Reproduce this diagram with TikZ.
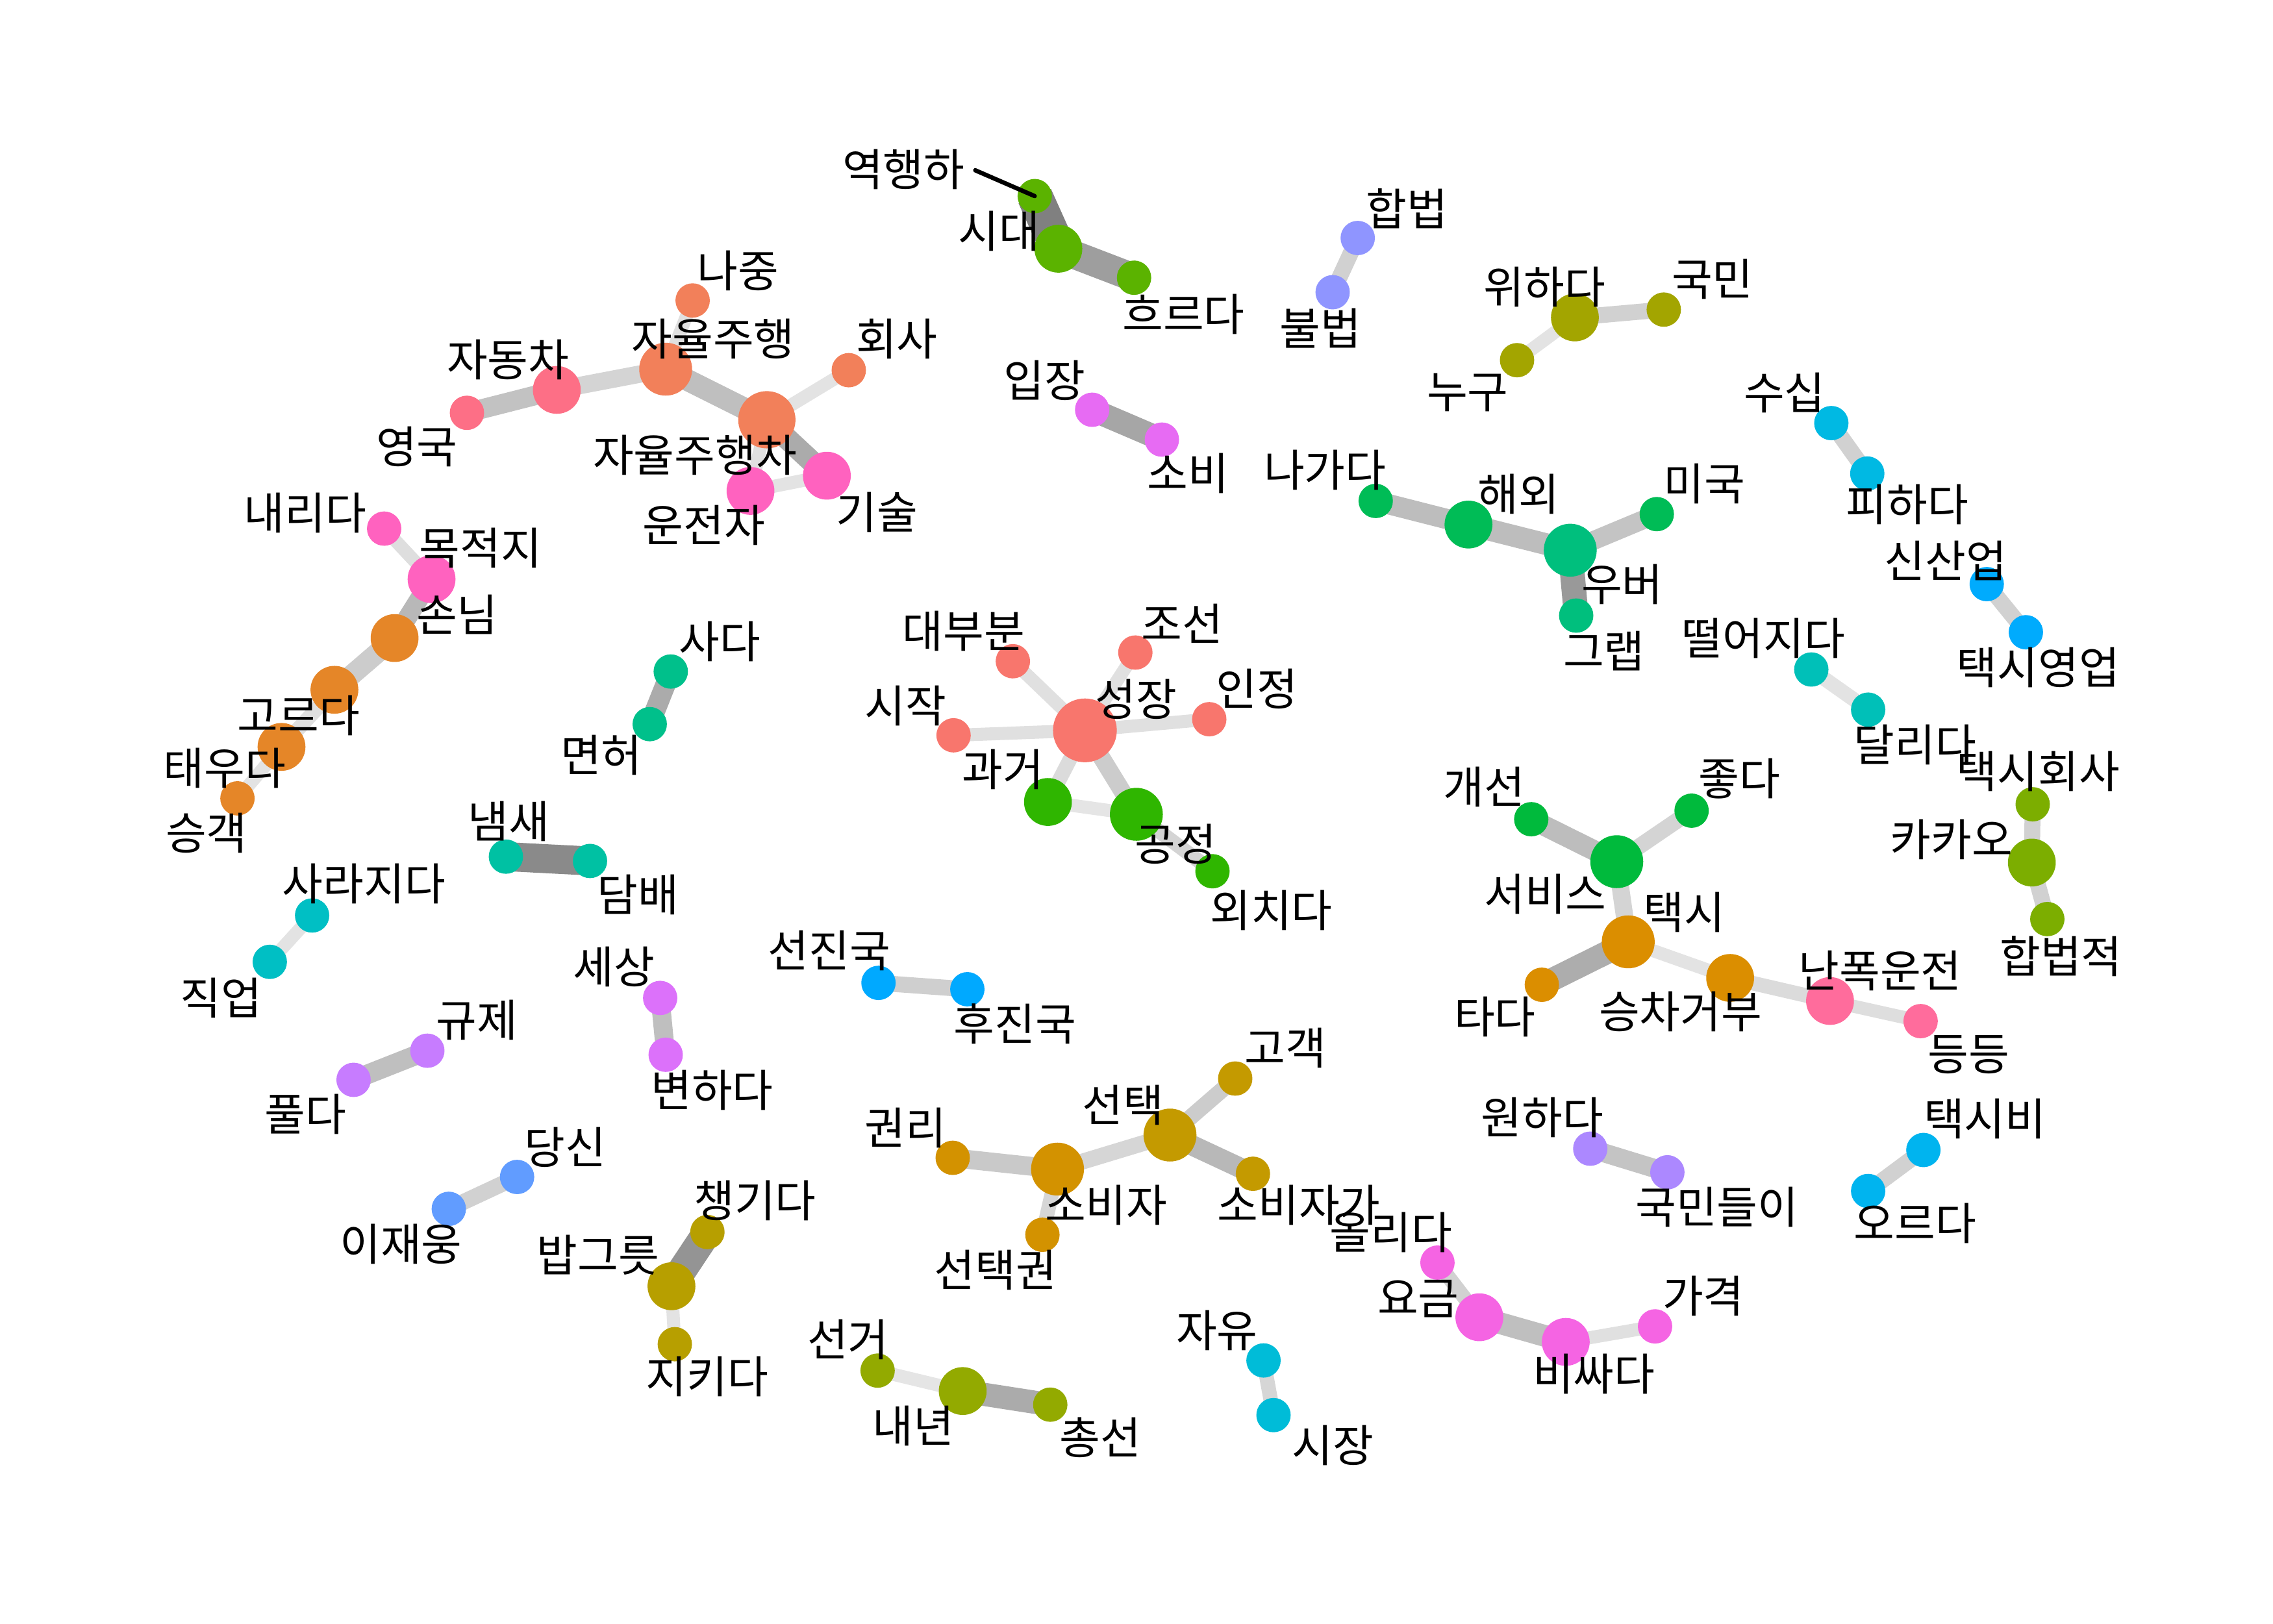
\documentclass[tikz,border=0pt]{standalone}
\usepackage{fontspec}
\newfontfamily\kr{Noto Sans CJK KR}
\pgfdeclarelayer{bg}
\pgfsetlayers{bg,main}
\definecolor{cA}{HTML}{F2805A}
\definecolor{cB}{HTML}{FD6F86}
\definecolor{cC}{HTML}{FF62BF}
\definecolor{cD}{HTML}{E58628}
\definecolor{cE}{HTML}{00C08B}
\definecolor{cF}{HTML}{00C1A3}
\definecolor{cG}{HTML}{00BFC4}
\definecolor{cH}{HTML}{C77CFF}
\definecolor{cI}{HTML}{619CFF}
\definecolor{cJ}{HTML}{DC71FA}
\definecolor{cK}{HTML}{B79F00}
\definecolor{cL}{HTML}{5BB300}
\definecolor{cM}{HTML}{8F95FF}
\definecolor{cN}{HTML}{A3A500}
\definecolor{cO}{HTML}{E76BF3}
\definecolor{cP}{HTML}{F8766D}
\definecolor{cQ}{HTML}{2FB600}
\definecolor{cR}{HTML}{00BC56}
\definecolor{cS}{HTML}{00BF7D}
\definecolor{cT}{HTML}{00BA3C}
\definecolor{cU}{HTML}{00A9FF}
\definecolor{cV}{HTML}{C49A00}
\definecolor{cW}{HTML}{D39200}
\definecolor{cX}{HTML}{93AA00}
\definecolor{cY}{HTML}{00BCD8}
\definecolor{cZ}{HTML}{F564E3}
\definecolor{ca}{HTML}{AC88FF}
\definecolor{cb}{HTML}{00B4EF}
\definecolor{cc}{HTML}{00B9E3}
\definecolor{cd}{HTML}{00ABFD}
\definecolor{ce}{HTML}{00C0B8}
\definecolor{cf}{HTML}{DB8E00}
\definecolor{cg}{HTML}{FF6C9C}
\definecolor{ch}{HTML}{7CAE00}
\tikzset{
  vsmall/.style={circle,inner sep=0pt,minimum size=2.37mm,draw=none},
  vbig/.style={circle,inner sep=0pt,minimum size=3.3mm,draw=none},
  vhuge/.style={circle,inner sep=0pt,minimum size=3.65mm,draw=none},
  vgiant/.style={circle,inner sep=0pt,minimum size=3.95mm,draw=none},
  vmega/.style={circle,inner sep=0pt,minimum size=4.4mm,draw=none},
  lbl/.style={font=\kr\fontsize{8.7pt}{9.5pt}\selectfont,inner sep=0pt,text=black},
  lnk/.style 2 args={draw=black!#1,line width=#2mm},
}
\begin{document}
\begin{tikzpicture}[x=1cm,y=-1cm]
\useasboundingbox (0,0) rectangle (15.68,11.2);
% ---------------- nodes ----------------
% cluster: 시대
\node[vsmall,fill=cL] (yeok) at (7.138,1.353) {};
\node[vbig,fill=cL] (sidae) at (7.301,1.716) {};
\node[vsmall,fill=cL] (heur) at (7.823,1.916) {};
% 합법
\node[vsmall,fill=cM] (hapb) at (9.366,1.642) {};
\node[vsmall,fill=cM] (bulb) at (9.193,2.016) {};
% 위하다
\node[vbig,fill=cN] (wiha) at (10.864,2.19) {};
\node[vsmall,fill=cN] (gukm) at (11.477,2.136) {};
\node[vsmall,fill=cN] (nugu) at (10.465,2.485) {};
% 자율주행
\node[vsmall,fill=cA] (najung) at (4.778,2.073) {};
\node[vhuge,fill=cA] (jayul) at (4.592,2.547) {};
\node[vbig,fill=cB] (jadong) at (3.841,2.69) {};
\node[vsmall,fill=cB] (yeongguk) at (3.221,2.848) {};
\node[vgiant,fill=cA] (jayulcha) at (5.29,2.896) {};
\node[vsmall,fill=cA] (hoesa) at (5.855,2.554) {};
\node[vbig,fill=cC] (gisul) at (5.704,3.282) {};
\node[vbig,fill=cC] (unjeon) at (5.177,3.387) {};
% 손님
\node[vsmall,fill=cC] (naerida) at (2.65,3.647) {};
\node[vbig,fill=cC] (mokjeok) at (2.977,3.996) {};
\node[vbig,fill=cD] (sonnim) at (2.722,4.402) {};
\node[vbig,fill=cD] (goreuda) at (2.307,4.759) {};
\node[vbig,fill=cD] (taeuda) at (1.942,5.153) {};
\node[vsmall,fill=cD] (seunggaek) at (1.638,5.508) {};
% 사다
\node[vsmall,fill=cE] (sada) at (4.627,4.633) {};
\node[vsmall,fill=cE] (myeonheo) at (4.482,4.996) {};
% 냄새
\node[vsmall,fill=cF] (naemsae) at (3.49,5.91) {};
\node[vsmall,fill=cF] (dambae) at (4.07,5.94) {};
% 사라지다
\node[vsmall,fill=cG] (sarajida) at (2.153,6.316) {};
\node[vsmall,fill=cG] (jigeop) at (1.861,6.636) {};
% 규제
\node[vsmall,fill=cH] (gyuje) at (2.948,7.249) {};
\node[vsmall,fill=cH] (pulda) at (2.439,7.45) {};
% 당신
\node[vsmall,fill=cI] (dangsin) at (3.567,8.12) {};
\node[vsmall,fill=cI] (ijaeung) at (3.096,8.34) {};
% 세상
\node[vsmall,fill=cJ] (sesang) at (4.554,6.885) {};
\node[vsmall,fill=cJ] (byeon) at (4.592,7.277) {};
% 밥그릇
\node[vsmall,fill=cK] (chaeng) at (4.88,8.50) {};
\node[vbig,fill=cK] (bap) at (4.632,8.874) {};
\node[vsmall,fill=cK] (jiki) at (4.655,9.274) {};
% 입장
\node[vsmall,fill=cO] (ipjang) at (7.534,2.827) {};
\node[vsmall,fill=cO] (sobi) at (8.015,3.033) {};
% 성장
\node[vsmall,fill=cP] (daebubun) at (6.987,4.562) {};
\node[vsmall,fill=cP] (joseon) at (7.832,4.502) {};
\node[vsmall,fill=cP] (sijak) at (6.578,5.073) {};
\node[vmega,fill=cP] (seongjang) at (7.484,5.039) {};
\node[vsmall,fill=cP] (injeong) at (8.342,4.962) {};
\node[vbig,fill=cQ] (gwageo) at (7.229,5.533) {};
\node[vhuge,fill=cQ] (gongjeong) at (7.839,5.618) {};
\node[vsmall,fill=cQ] (oechida) at (8.364,6.011) {};
% 선진국
\node[vsmall,fill=cU] (seonjin) at (6.06,6.781) {};
\node[vsmall,fill=cU] (hujin) at (6.673,6.825) {};
% 선택
\node[vsmall,fill=cV] (gogaek) at (8.521,7.441) {};
\node[vhuge,fill=cV] (seontaek) at (8.071,7.831) {};
\node[vsmall,fill=cW] (gwonri) at (6.572,7.988) {};
\node[vhuge,fill=cW] (sobija) at (7.295,8.066) {};
\node[vsmall,fill=cV] (sobijaga) at (8.643,8.098) {};
\node[vsmall,fill=cW] (seontaekgwon) at (7.191,8.519) {};
% 내년
\node[vsmall,fill=cX] (seongeo) at (6.054,9.456) {};
\node[vbig,fill=cX] (naenyeon) at (6.641,9.597) {};
\node[vsmall,fill=cX] (chongseon) at (7.245,9.691) {};
% 자유
\node[vsmall,fill=cY] (jayu) at (8.716,9.386) {};
\node[vsmall,fill=cY] (sijang) at (8.785,9.763) {};
% 요금
\node[vsmall,fill=cZ] (ollida) at (9.916,8.711) {};
\node[vbig,fill=cZ] (yogeum) at (10.205,9.088) {};
\node[vbig,fill=cZ] (bissada) at (10.801,9.258) {};
\node[vsmall,fill=cZ] (gagyeok) at (11.417,9.151) {};
% 원하다
\node[vsmall,fill=ca] (wonhada) at (10.97,7.925) {};
\node[vsmall,fill=ca] (gukmindeuri) at (11.502,8.088) {};
% 택시비
\node[vsmall,fill=cb] (taeksibi) at (13.268,7.934) {};
\node[vsmall,fill=cb] (oreuda) at (12.887,8.217) {};
% 우버
\node[vsmall,fill=cR] (nagada) at (9.49,3.456) {};
\node[vbig,fill=cR] (haeoe) at (10.13,3.619) {};
\node[vsmall,fill=cR] (miguk) at (11.429,3.547) {};
\node[vhuge,fill=cS] (uber) at (10.832,3.796) {};
\node[vsmall,fill=cS] (grab) at (10.873,4.247) {};
% 수십
\node[vsmall,fill=cc] (susip) at (12.633,2.919) {};
\node[vsmall,fill=cc] (pihada) at (12.881,3.267) {};
% 신산업
\node[vsmall,fill=cd] (sinsaneop) at (13.705,4.03) {};
\node[vsmall,fill=cd] (yeongeop) at (13.975,4.362) {};
% 떨어지다
\node[vsmall,fill=ce] (tteoreo) at (12.495,4.619) {};
\node[vsmall,fill=ce] (dallida) at (12.887,4.896) {};
% 서비스 / 택시
\node[vsmall,fill=cT] (gaeseon) at (10.563,5.652) {};
\node[vsmall,fill=cT] (jota) at (11.669,5.593) {};
\node[vhuge,fill=cT] (service) at (11.153,5.945) {};
\node[vhuge,fill=cf] (taeksi) at (11.232,6.498) {};
\node[vsmall,fill=cf] (tada) at (10.636,6.794) {};
\node[vbig,fill=cf] (seungcha) at (11.935,6.747) {};
\node[vbig,fill=cg] (nanpok) at (12.624,6.906) {};
\node[vsmall,fill=cg] (deungdeung) at (13.249,7.045) {};
% 카카오
\node[vsmall,fill=ch] (taeksihoesa) at (14.022,5.549) {};
\node[vbig,fill=ch] (kakao) at (14.016,5.951) {};
\node[vsmall,fill=ch] (hapbeopjeok) at (14.123,6.341) {};
% ---------------- edges ----------------
\begin{pgfonlayer}{bg}
\draw[lnk={50}{2.45}] (yeok.center) -- (sidae.center);
\draw[lnk={38}{1.95}] (sidae.center) -- (heur.center);
\draw[lnk={18}{1.1}] (hapb.center) -- (bulb.center);
\draw[lnk={18}{1.1}] (wiha.center) -- (gukm.center);
\draw[lnk={11}{0.9}] (wiha.center) -- (nugu.center);
\draw[lnk={24}{1.35}] (yeongguk.center) -- (jadong.center);
\draw[lnk={17}{1.2}] (jadong.center) -- (jayul.center);
\draw[lnk={12}{0.9}] (najung.center) -- (jayul.center);
\draw[lnk={25}{1.5}] (jayul.center) -- (jayulcha.center);
\draw[lnk={11}{0.9}] (jayulcha.center) -- (hoesa.center);
\draw[lnk={33}{1.5}] (jayulcha.center) -- (gisul.center);
\draw[lnk={12}{0.9}] (jayulcha.center) -- (unjeon.center);
\draw[lnk={11}{0.9}] (unjeon.center) -- (gisul.center);
\draw[lnk={13}{0.9}] (naerida.center) -- (mokjeok.center);
\draw[lnk={28}{1.3}] (mokjeok.center) -- (sonnim.center);
\draw[lnk={20}{1.4}] (sonnim.center) -- (goreuda.center);
\draw[lnk={12}{1.0}] (goreuda.center) -- (taeuda.center);
\draw[lnk={11}{0.9}] (taeuda.center) -- (seunggaek.center);
\draw[lnk={33}{1.4}] (sada.center) -- (myeonheo.center);
\draw[lnk={46}{2.0}] (naemsae.center) -- (dambae.center);
\draw[lnk={11}{0.9}] (sarajida.center) -- (jigeop.center);
\draw[lnk={25}{1.35}] (gyuje.center) -- (pulda.center);
\draw[lnk={18}{1.1}] (dangsin.center) -- (ijaeung.center);
\draw[lnk={25}{1.3}] (sesang.center) -- (byeon.center);
\draw[lnk={42}{2.0}] (chaeng.center) -- (bap.center);
\draw[lnk={11}{0.9}] (bap.center) -- (jiki.center);
\draw[lnk={35}{1.6}] (ipjang.center) -- (sobi.center);
\draw[lnk={12}{0.9}] (seongjang.center) -- (daebubun.center);
\draw[lnk={12}{0.9}] (seongjang.center) -- (joseon.center);
\draw[lnk={12}{0.9}] (seongjang.center) -- (sijak.center);
\draw[lnk={12}{0.9}] (seongjang.center) -- (injeong.center);
\draw[lnk={14}{1.0}] (seongjang.center) -- (gwageo.center);
\draw[lnk={20}{1.2}] (seongjang.center) -- (gongjeong.center);
\draw[lnk={10}{0.9}] (gwageo.center) -- (gongjeong.center);
\draw[lnk={17}{1.0}] (gongjeong.center) -- (oechida.center);
\draw[lnk={19}{1.1}] (seonjin.center) -- (hujin.center);
\draw[lnk={20}{1.1}] (gogaek.center) -- (seontaek.center);
\draw[lnk={16}{1.1}] (seontaek.center) -- (sobija.center);
\draw[lnk={28}{1.4}] (seontaek.center) -- (sobijaga.center);
\draw[lnk={21}{1.3}] (gwonri.center) -- (sobija.center);
\draw[lnk={16}{1.0}] (sobija.center) -- (seontaekgwon.center);
\draw[lnk={10}{0.9}] (seongeo.center) -- (naenyeon.center);
\draw[lnk={33}{1.6}] (naenyeon.center) -- (chongseon.center);
\draw[lnk={16}{1.0}] (jayu.center) -- (sijang.center);
\draw[lnk={18}{1.0}] (ollida.center) -- (yogeum.center);
\draw[lnk={25}{1.5}] (yogeum.center) -- (bissada.center);
\draw[lnk={12}{0.9}] (bissada.center) -- (gagyeok.center);
\draw[lnk={23}{1.3}] (wonhada.center) -- (gukmindeuri.center);
\draw[lnk={18}{1.1}] (taeksibi.center) -- (oreuda.center);
\draw[lnk={26}{1.4}] (nagada.center) -- (haeoe.center);
\draw[lnk={26}{1.5}] (haeoe.center) -- (uber.center);
\draw[lnk={23}{1.3}] (uber.center) -- (miguk.center);
\draw[lnk={40}{1.7}] (uber.center) -- (grab.center);
\draw[lnk={18}{1.1}] (susip.center) -- (pihada.center);
\draw[lnk={18}{1.1}] (sinsaneop.center) -- (yeongeop.center);
\draw[lnk={11}{1.0}] (tteoreo.center) -- (dallida.center);
\draw[lnk={26}{1.4}] (gaeseon.center) -- (service.center);
\draw[lnk={17}{1.1}] (jota.center) -- (service.center);
\draw[lnk={17}{1.2}] (service.center) -- (taeksi.center);
\draw[lnk={32}{1.6}] (taeksi.center) -- (tada.center);
\draw[lnk={11}{0.9}] (taeksi.center) -- (seungcha.center);
\draw[lnk={14}{1.0}] (seungcha.center) -- (nanpok.center);
\draw[lnk={13}{0.9}] (nanpok.center) -- (deungdeung.center);
\draw[lnk={18}{1.1}] (taeksihoesa.center) -- (kakao.center);
\draw[lnk={18}{1.1}] (kakao.center) -- (hapbeopjeok.center);
\end{pgfonlayer}
% ---------------- labels ----------------
\node[lbl] (t-yeok) at (6.233,1.167) {역행하};
\coordinate (leadA) at (6.728,1.175);
\draw[line width=0.3mm,line cap=round] (leadA) -- (yeok.center);
\node[lbl] (t-sidae) at (6.893,1.595) {시대};
\node[lbl] (t-heur) at (8.165,2.168) {흐르다};
\node[lbl] (t-hapb) at (9.706,1.438) {합법};
\node[lbl] (t-bulb) at (9.108,2.267) {불법};
\node[lbl] (t-wiha) at (10.655,1.98) {위하다};
\node[lbl] (t-gukm) at (11.813,1.925) {국민};
\node[lbl] (t-nugu) at (10.124,2.71) {누구};
\node[lbl] (t-najung) at (5.092,1.867) {나중};
\node[lbl] (t-jayul) at (4.919,2.339) {자율주행};
\node[lbl] (t-jadong) at (3.505,2.482) {자동차};
\node[lbl] (t-yeongguk) at (2.876,3.082) {영국};
\node[lbl] (t-jayulcha) at (4.794,3.139) {자율주행차};
\node[lbl] (t-unjeon) at (4.856,3.625) {운전자};
\node[lbl] (t-hoesa) at (6.186,2.339) {회사};
\node[lbl] (t-gisul) at (6.05,3.535) {기술};
\node[lbl] (t-naerida) at (2.106,3.539) {내리다};
\node[lbl] (t-mokjeok) at (3.315,3.78) {목적지};
\node[lbl] (t-sonnim) at (3.153,4.238) {손님};
\node[lbl] (t-goreuda) at (2.059,4.939) {고르다};
\node[lbl] (t-taeuda) at (1.55,5.30) {태우다};
\node[lbl] (t-seunggaek) at (1.424,5.747) {승객};
\node[lbl] (t-sada) at (4.966,4.425) {사다};
\node[lbl] (t-myeonheo) at (4.148,5.21) {면허};
\node[lbl] (t-naemsae) at (3.508,5.665) {냄새};
\node[lbl] (t-dambae) at (4.40,6.174) {담배};
\node[lbl] (t-sarajida) at (2.51,6.098) {사라지다};
\node[lbl] (t-jigeop) at (1.525,6.885) {직업};
\node[lbl] (t-gyuje) at (3.291,7.036) {규제};
\node[lbl] (t-pulda) at (2.106,7.686) {풀다};
\node[lbl] (t-dangsin) at (3.898,7.915) {당신};
\node[lbl] (t-ijaeung) at (2.766,8.582) {이재웅};
\node[lbl] (t-sesang) at (4.234,6.67) {세상};
\node[lbl] (t-byeon) at (4.912,7.522) {변하다};
\node[lbl] (t-chaeng) at (5.208,8.284) {챙기다};
\node[lbl] (t-bap) at (4.126,8.66) {밥그릇};
\node[lbl] (t-jiki) at (4.878,9.498) {지키다};
\node[lbl] (t-ipjang) at (7.207,2.624) {입장};
\node[lbl] (t-sobi) at (8.197,3.267) {소비};
\node[lbl] (t-daebubun) at (6.648,4.353) {대부분};
\node[lbl] (t-joseon) at (8.156,4.30) {조선};
\node[lbl] (t-sijak) at (6.248,4.868) {시작};
\node[lbl] (t-seongjang) at (7.836,4.825) {성장};
\node[lbl] (t-injeong) at (8.669,4.754) {인정};
\node[lbl] (t-gwageo) at (6.92,5.31) {과거};
\node[lbl] (t-gongjeong) at (8.112,5.822) {공정};
\node[lbl] (t-oechida) at (8.769,6.281) {외치다};
\node[lbl] (t-seonjin) at (5.72,6.56) {선진국};
\node[lbl] (t-hujin) at (7.002,7.064) {후진국};
\node[lbl] (t-gogaek) at (8.866,7.23) {고객};
\node[lbl] (t-seontaek) at (7.747,7.623) {선택};
\node[lbl] (t-gwonri) at (6.248,7.78) {권리};
\node[lbl] (t-sobija) at (7.631,8.315) {소비자};
\node[lbl] (t-sobijaga) at (8.96,8.315) {소비자가};
\node[lbl] (t-seontaekgwon) at (6.867,8.764) {선택권};
\node[lbl] (t-seongeo) at (5.85,9.24) {선거};
\node[lbl] (t-naenyeon) at (6.302,9.838) {내년};
\node[lbl] (t-chongseon) at (7.589,9.918) {총선};
\node[lbl] (t-jayu) at (8.395,9.179) {자유};
\node[lbl] (t-sijang) at (9.193,9.971) {시장};
\node[lbl] (t-ollida) at (9.596,8.504) {올리다};
\node[lbl] (t-yogeum) at (9.784,8.959) {요금};
\node[lbl] (t-bissada) at (10.995,9.478) {비싸다};
\node[lbl] (t-gagyeok) at (11.75,8.943) {가격};
\node[lbl] (t-wonhada) at (10.64,7.71) {원하다};
\node[lbl] (t-gukmindeuri) at (11.844,8.33) {국민들이};
\node[lbl] (t-taeksibi) at (13.692,7.717) {택시비};
\node[lbl] (t-oreuda) at (13.21,8.44) {오르다};
\node[lbl] (t-nagada) at (9.14,3.244) {나가다};
\node[lbl] (t-haeoe) at (10.475,3.41) {해외};
\node[lbl] (t-miguk) at (11.756,3.339) {미국};
\node[lbl] (t-uber) at (11.19,4.033) {우버};
\node[lbl] (t-grab) at (11.065,4.49) {그랩};
\node[lbl] (t-susip) at (12.31,2.71) {수십};
\node[lbl] (t-pihada) at (13.158,3.481) {피하다};
\node[lbl] (t-sinsaneop) at (13.422,3.868) {신산업};
\node[lbl] (t-yeongeop) at (14.06,4.605) {택시영업};
\node[lbl] (t-tteoreo) at (12.165,4.405) {떨어지다};
\node[lbl] (t-dallida) at (13.21,5.139) {달리다};
\node[lbl] (t-gaeseon) at (10.24,5.43) {개선};
\node[lbl] (t-jota) at (12.0,5.37) {좋다};
\node[lbl] (t-service) at (10.66,6.17) {서비스};
\node[lbl] (t-taeksi) at (11.618,6.294) {택시};
\node[lbl] (t-tada) at (10.312,7.016) {타다};
\node[lbl] (t-seungcha) at (11.593,6.979) {승차거부};
\node[lbl] (t-nanpok) at (12.97,6.696) {난폭운전};
\node[lbl] (t-deungdeung) at (13.582,7.277) {등등};
\node[lbl] (t-taeksihoesa) at (14.06,5.32) {택시회사};
\node[lbl] (t-kakao) at (13.463,5.791) {카카오};
\node[lbl] (t-hapbeopjeok) at (14.217,6.596) {합법적};
\end{tikzpicture}
\end{document}
